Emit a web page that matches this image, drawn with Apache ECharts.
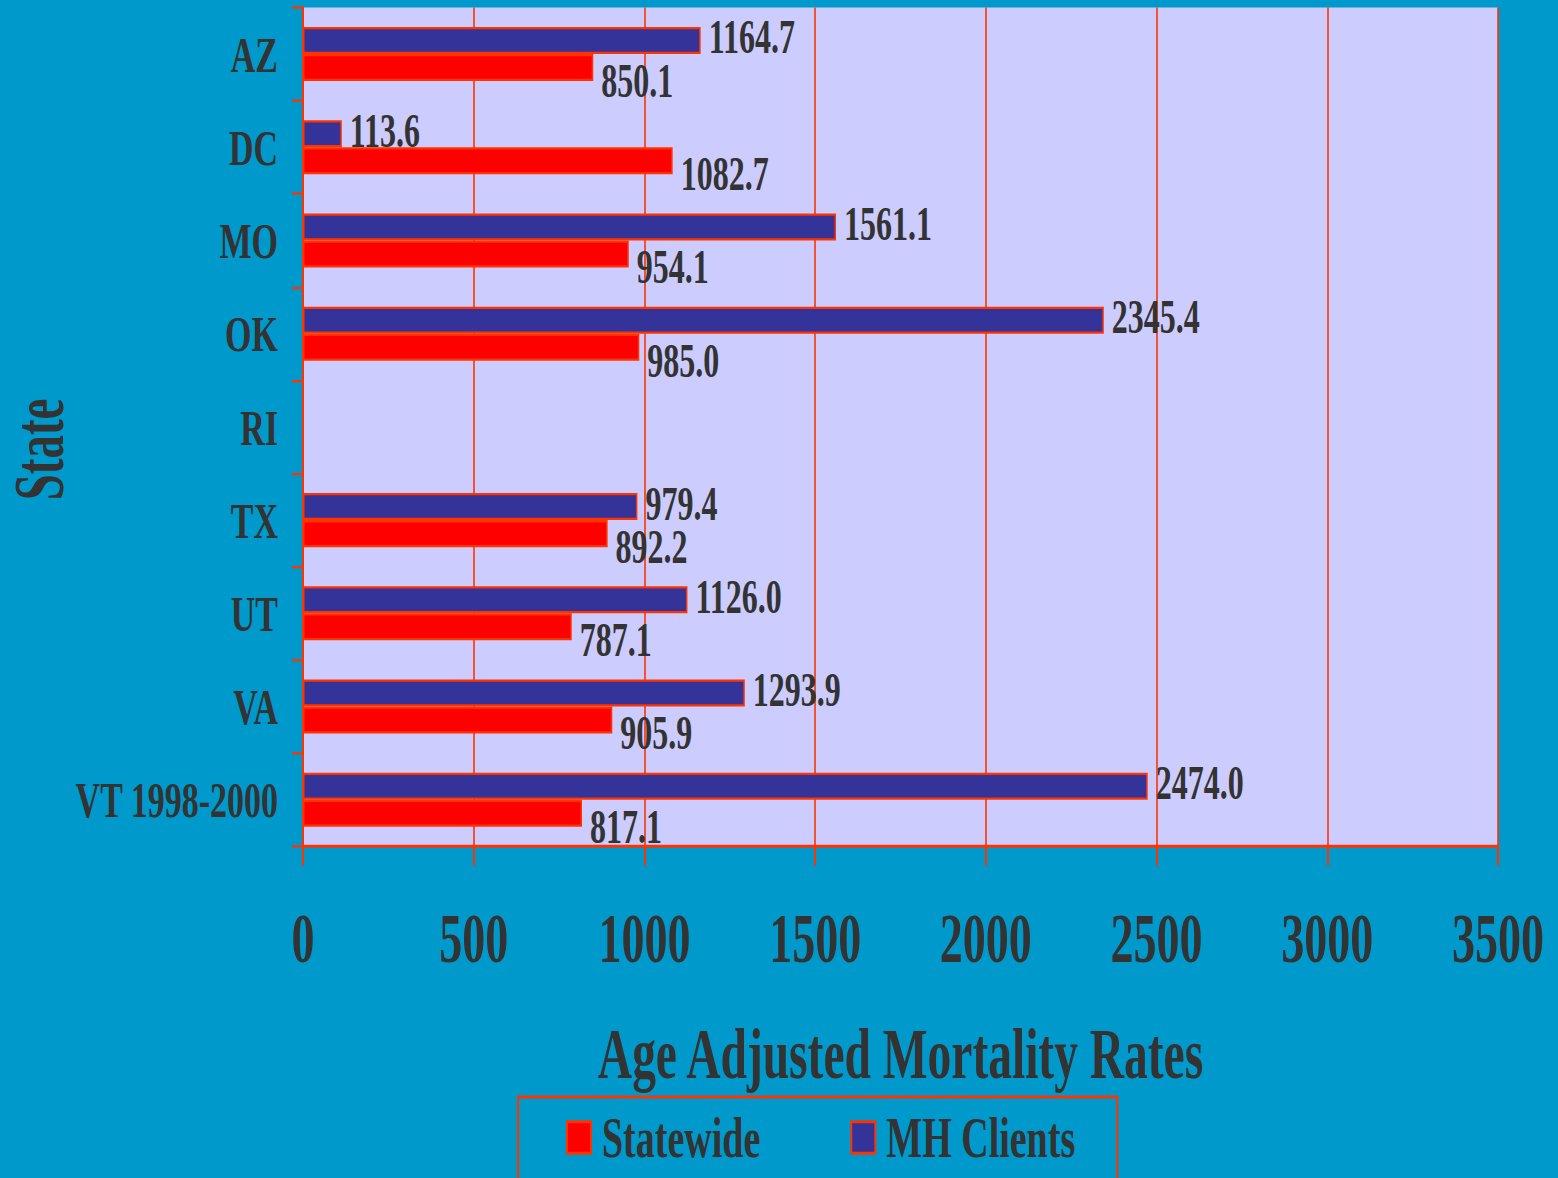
<!DOCTYPE html>
<html>
<head>
<meta charset="utf-8">
<script src="https://cdn.jsdelivr.net/npm/echarts@6/dist/echarts.min.js"></script>
<style>
  html, body { margin: 0; padding: 0; background: #0099CC; }
  body { width: 1558px; height: 1178px; }
  #chart { width: 1558px; height: 785px; transform: scaleY(1.5006); transform-origin: 0 0; }
</style>
</head>
<body>
<div id="chart"></div>
<script>
const categories = ['AZ', 'DC', 'MO', 'OK', 'RI', 'TX', 'UT', 'VA', 'VT 1998-2000'];
const mhClients = [1164.7, 113.6, 1561.1, 2345.4, null, 979.4, 1126.0, 1293.9, 2474.0];
const statewide = [850.1, 1082.7, 954.1, 985.0, null, 892.2, 787.1, 905.9, 817.1];
const seriesNames = ['Statewide', 'MH Clients'];
const xTicks = { min: 0, max: 3500, interval: 500 };

const FONT = '"Liberation Serif", "Times New Roman", serif';
const TXT = '#333333';
const RED_LINE = '#FF3300';

const fmtLabel = p => p.value == null ? '' : Number(p.value).toFixed(1);

const chart = echarts.init(document.getElementById('chart'), null, { renderer: 'svg' });
chart.setOption({
  backgroundColor: '#0099CC',
  animation: false,
  grid: {
    left: 303, right: 60, top: 5, bottom: 221,
    show: true, backgroundColor: '#CCCCFF', borderWidth: 0,
    containLabel: false, outerBoundsMode: 'none'
  },
  legend: {
    data: seriesNames,
    orient: 'horizontal',
    left: 518, top: 731,
    padding: [8, 42, 40, 48],
    itemGap: 90,
    itemWidth: 24, itemHeight: 21,
    borderColor: RED_LINE, borderWidth: 2,
    icon: 'rect',
    textStyle: { fontFamily: FONT, fontWeight: 'bold', fontSize: 38, lineHeight: 38, color: TXT, padding: [0, 0, 0, 6] }
  },
  xAxis: {
    type: 'value',
    min: xTicks.min, max: xTicks.max, interval: xTicks.interval,
    name: 'Age Adjusted Mortality Rates',
    nameLocation: 'middle',
    nameGap: 138,
    nameMoveOverlap: false,
    nameTextStyle: { fontFamily: FONT, fontWeight: 'bold', fontSize: 47.5, lineHeight: 47, color: TXT, verticalAlign: 'middle' },
    axisLine: { show: true, lineStyle: { color: RED_LINE, width: 2 } },
    axisTick: { show: true, length: 13, lineStyle: { color: RED_LINE, width: 2 } },
    axisLabel: { margin: 39, fontFamily: FONT, fontWeight: 'bold', fontSize: 46, lineHeight: 46, color: TXT,
      hideOverlap: false, formatter: v => String(v) },
    splitLine: { show: true, lineStyle: { color: RED_LINE, width: 1.6 } }
  },
  yAxis: {
    type: 'category',
    data: categories,
    inverse: true,
    axisLine: { show: true, lineStyle: { color: RED_LINE, width: 2 } },
    axisTick: { show: true, length: 11, lineStyle: { color: RED_LINE, width: 1.5 } },
    axisLabel: { margin: 25, fontFamily: FONT, fontWeight: 'bold', fontSize: 34, color: TXT },
    splitLine: { show: false }
  },
  graphic: [{
    type: 'text',
    x: 39, y: 299.5,
    rotation: Math.PI / 2,
    scaleX: 1.043, scaleY: 2.38,
    style: { text: 'State', x: 0, y: 0, align: 'center', verticalAlign: 'middle',
      fontFamily: FONT, fontWeight: 'bold', fontSize: 30, fill: TXT }
  }],
  series: [
    {
      name: seriesNames[1], type: 'bar', data: mhClients,
      barWidth: 18, barGap: '0%',
      itemStyle: { color: '#333399', borderColor: RED_LINE, borderWidth: 1.5 },
      label: { show: true, position: 'right', distance: 8, offset: [0, -2],
        formatter: fmtLabel,
        fontFamily: FONT, fontWeight: 'bold', fontSize: 32, lineHeight: 24, color: TXT }
    },
    {
      name: seriesNames[0], type: 'bar', data: statewide,
      barWidth: 18, barGap: '0%',
      itemStyle: { color: '#FF0000', borderColor: RED_LINE, borderWidth: 1.5 },
      label: { show: true, position: 'right', distance: 8, offset: [0, 9],
        formatter: fmtLabel,
        fontFamily: FONT, fontWeight: 'bold', fontSize: 32, lineHeight: 24, color: TXT }
    }
  ]
});
</script>
</body>
</html>
